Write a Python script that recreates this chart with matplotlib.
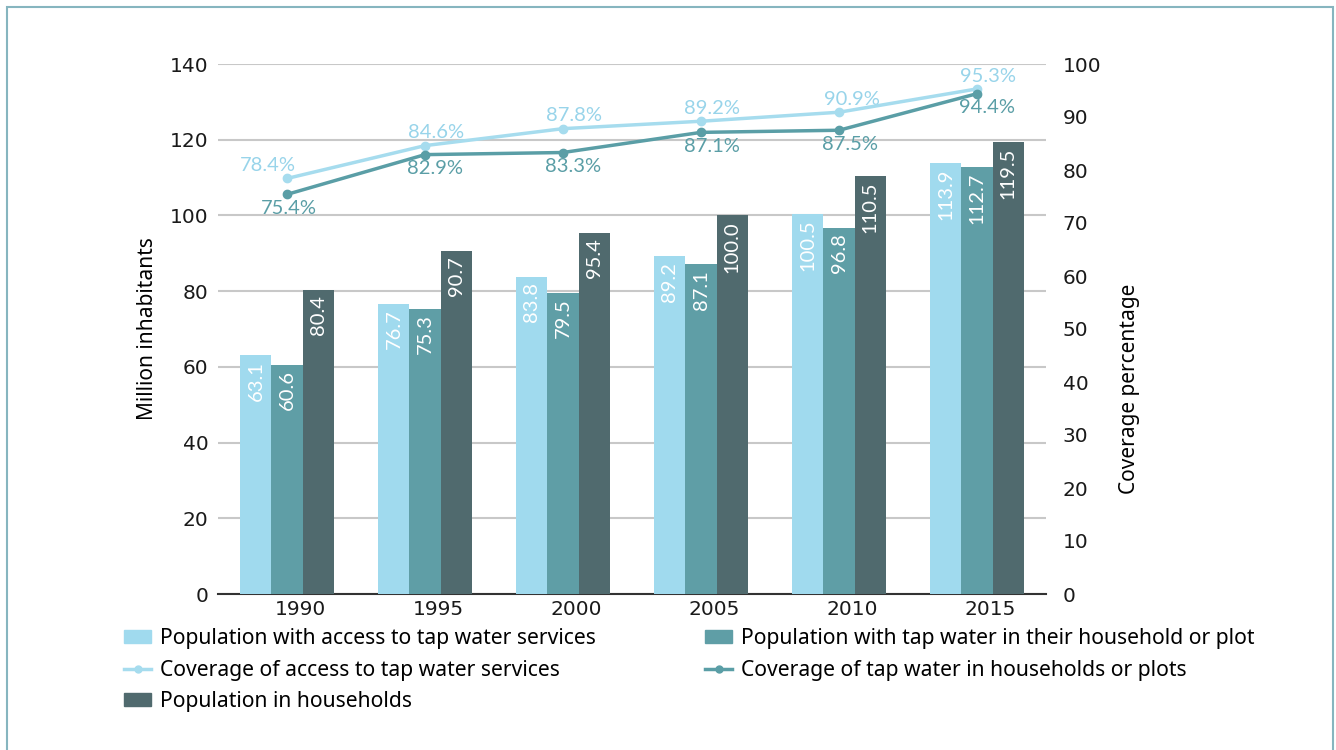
import matplotlib
matplotlib.use("Agg")
import matplotlib.pyplot as plt
import matplotlib.patches as mpatches
import matplotlib.transforms as mtransforms
from matplotlib.lines import Line2D
import numpy as np

plt.rcParams['font.family'] = ['Noto Sans', 'DejaVu Sans']

years = ["1990", "1995", "2000", "2005", "2010", "2015"]
popAccess = [63.1, 76.7, 83.8, 89.2, 100.5, 113.9]
popTapHousehold = [60.6, 75.3, 79.5, 87.1, 96.8, 112.7]
popHouseholds = [80.4, 90.7, 95.4, 100.0, 110.5, 119.5]
covAccess = [78.4, 84.6, 87.8, 89.2, 90.9, 95.3]
covHousehold = [75.4, 82.9, 83.3, 87.1, 87.5, 94.4]

leftTicks = [0, 20, 40, 60, 80, 100, 120, 140]
rightTicks = [0, 10, 20, 30, 40, 50, 60, 70, 80, 90, 100]

# horizontal nudges (points) of the percentage labels, as placed in the original
lightLabelShift = [-14, 8, 8, 8, 9, 8]
darkLabelShift = [1, 7, 7, 8, 8, 7]

cLight = "#a0daee"
cTeal = "#5f9ea6"
cDark = "#506a6e"
cLineLight = "#a6dcee"
cLineDark = "#5a9ea6"

tickFont = dict(family="DejaVu Sans", size=14.5)

fig = plt.figure(figsize=(13.36, 7.5), dpi=100)
ax = fig.add_axes([218/1336, 1-594/750, (1046-218)/1336, (594-64)/750])
ax2 = ax.twinx()

x = np.arange(len(years))
w = 0.225

# bars
bLight = ax.bar(x - w, popAccess, w, color=cLight, zorder=3)
bTeal = ax.bar(x, popTapHousehold, w, color=cTeal, zorder=3)
bDark = ax.bar(x + w, popHouseholds, w, color=cDark, zorder=3)

for bars, vals in [(bLight, popAccess), (bTeal, popTapHousehold), (bDark, popHouseholds)]:
    for b, v in zip(bars, vals):
        ax.annotate("%.1f" % v, (b.get_x() + b.get_width()/2, v),
                    xytext=(0, -4), textcoords="offset points",
                    ha="center", va="top", rotation=90, color="white",
                    fontsize=14.5, family="Lato", zorder=4)

ax.set_xlim(-0.5, len(years) - 0.5)
ax.set_ylim(0, 140)
ax.set_yticks(leftTicks)
ax.set_xticks(x)
ax.set_xticklabels(years)
ax.yaxis.grid(True, color="#c8c8c8", linewidth=1.5, zorder=0)
ax.set_axisbelow(True)
for s in ["top", "right", "left"]:
    ax.spines[s].set_visible(False)
ax.spines["bottom"].set_color("#333333")
ax.spines["bottom"].set_linewidth(1.5)
ax.tick_params(axis="both", length=0, colors="#1a1a1a")
ax.tick_params(axis="y", pad=7)
ax.tick_params(axis="x", pad=4)
for lab in ax.get_xticklabels() + ax.get_yticklabels():
    lab.set_fontproperties(tickFont)
# year labels sit a little right of the group centres in the original
shiftRight = mtransforms.ScaledTranslation(13/100, 0, fig.dpi_scale_trans)
for lab in ax.get_xticklabels():
    lab.set_transform(lab.get_transform() + shiftRight)
ax.set_ylabel("Million inhabitants", fontsize=15)
ax.yaxis.set_label_coords(-0.072, 0.5)

# coverage lines
ax2.plot(x, covAccess, color=cLineLight, lw=2.5, marker="o", ms=6, zorder=5)
ax2.plot(x, covHousehold, color=cLineDark, lw=2.5, marker="o", ms=6, zorder=5)
for xi, v, dx in zip(x, covAccess, lightLabelShift):
    ax2.annotate("%.1f%%" % v, (xi, v), xytext=(dx, 3), textcoords="offset points",
                 ha="center", va="bottom", color="#98d4ea", fontsize=14.5, family="Lato")
for xi, v, dx in zip(x, covHousehold, darkLabelShift):
    ax2.annotate("%.1f%%" % v, (xi, v), xytext=(dx, -4), textcoords="offset points",
                 ha="center", va="top", color=cLineDark, fontsize=14.5, family="Lato")
ax2.set_ylim(0, 100)
ax2.set_yticks(rightTicks)
for s in ["top", "right", "left", "bottom"]:
    ax2.spines[s].set_visible(False)
ax2.tick_params(axis="y", length=0, colors="#1a1a1a", pad=12)
for lab in ax2.get_yticklabels():
    lab.set_fontproperties(tickFont)
ax2.set_ylabel("Coverage percentage", fontsize=15)
ax2.yaxis.set_label_coords(1.088, 0.387)

# legends
h1 = mpatches.Patch(color=cLight)
h2 = Line2D([], [], color=cLineLight, lw=2.5, marker="o", ms=5)
h3 = mpatches.Patch(color=cDark)
h4 = mpatches.Patch(color=cTeal)
h5 = Line2D([], [], color=cLineDark, lw=2.5, marker="o", ms=5)
legKw = dict(frameon=False, fontsize=15.2, handlelength=1.3, handleheight=0.55,
             handletextpad=0.4, labelspacing=0.5, borderpad=0, borderaxespad=0,
             loc="upper left")
fig.legend([h1, h2, h3],
           ["Population with access to tap water services",
            "Coverage of access to tap water services",
            "Population in households"],
           bbox_to_anchor=(124/1336, 1-628/750), **legKw)
fig.legend([h4, h5],
           ["Population with tap water in their household or plot",
            "Coverage of tap water in households or plots"],
           bbox_to_anchor=(705/1336, 1-628/750), **legKw)

# outer frame
frame = mpatches.Rectangle((7/1336, -0.02), (1333-7)/1336, 1-7/750+0.02,
                           transform=fig.transFigure, fill=False,
                           edgecolor="#86b5bf", lw=1.5, clip_on=False)
fig.patches.append(frame)

fig.savefig("out.png", dpi=100, facecolor="white")
